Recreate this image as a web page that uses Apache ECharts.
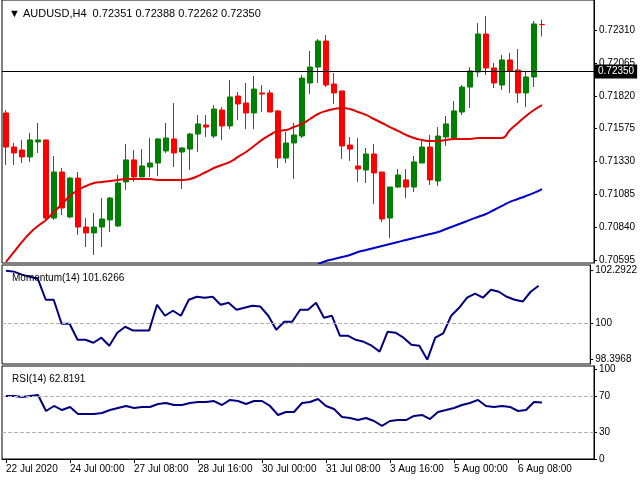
<!DOCTYPE html>
<html>
<head>
<meta charset="utf-8">
<script src="https://cdn.jsdelivr.net/npm/echarts@6/dist/echarts.min.js"></script>
<style>html,body{margin:0;padding:0;background:#fff}#chart{width:640px;height:480px}</style>
</head>
<body>
<div id="chart"></div>
<script>
// AUDUSD H4 candles: [open, close, low, high]
var candles = [
  [0.71692,0.71438,0.71304,0.71714],[0.71438,0.71394,0.71304,0.71468],[0.71416,0.71364,0.71319,0.71491],
  [0.71364,0.71491,0.71327,0.71543],[0.71476,0.71491,0.71394,0.71617],[0.71491,0.70909,0.70895,0.71491],
  [0.70909,0.71252,0.70895,0.71371],[0.71252,0.70984,0.70932,0.71282],[0.70917,0.71207,0.70909,0.71215],
  [0.71207,0.70842,0.70783,0.71252],[0.70842,0.70798,0.70693,0.70909],[0.70798,0.70842,0.70634,0.70947],
  [0.70842,0.70902,0.70693,0.71058],[0.70895,0.71058,0.70805,0.71066],[0.70850,0.71170,0.70842,0.71230],
  [0.71178,0.71342,0.71118,0.71461],[0.71342,0.71215,0.71178,0.71416],[0.71215,0.71297,0.71215,0.71423],
  [0.71289,0.71319,0.71215,0.71505],[0.71319,0.71498,0.71222,0.71505],[0.71409,0.71505,0.71394,0.71617],
  [0.71498,0.71394,0.71289,0.71766],[0.71401,0.71431,0.71125,0.71438],[0.71423,0.71535,0.71267,0.71543],
  [0.71535,0.71610,0.71401,0.71677],[0.71602,0.71587,0.71513,0.71677],[0.71520,0.71721,0.71505,0.71751],
  [0.71714,0.71595,0.71491,0.71736],[0.71595,0.71811,0.71572,0.71938],[0.71818,0.71759,0.71640,0.71848],
  [0.71766,0.71692,0.71572,0.71915],[0.71692,0.71870,0.71572,0.71967],[0.71841,0.71833,0.71699,0.71900],
  [0.71841,0.71699,0.71699,0.71863],[0.71707,0.71356,0.71282,0.71714],[0.71356,0.71468,0.71319,0.71550],
  [0.71468,0.71528,0.71200,0.71617],[0.71520,0.71952,0.71505,0.71975],[0.71915,0.72034,0.71833,0.72154],
  [0.72034,0.72228,0.71915,0.72243],[0.72228,0.71900,0.71885,0.72273],[0.71908,0.71841,0.71759,0.71990],
  [0.71856,0.71446,0.71349,0.71856],[0.71453,0.71423,0.71334,0.71513],[0.71297,0.71274,0.71178,0.71505],
  [0.71267,0.71386,0.71170,0.71431],[0.71386,0.71245,0.71014,0.71461],[0.71252,0.70902,0.70880,0.71252],
  [0.70909,0.71140,0.70760,0.71140],[0.71140,0.71230,0.71133,0.71274],[0.71193,0.71140,0.71058,0.71274],
  [0.71140,0.71327,0.71103,0.71371],[0.71319,0.71438,0.71319,0.71483],[0.71438,0.71193,0.71155,0.71528],
  [0.71185,0.71520,0.71148,0.71587],[0.71513,0.71610,0.71446,0.71669],[0.71505,0.71707,0.71505,0.71781],
  [0.71699,0.71885,0.71677,0.71900],[0.71885,0.72005,0.71729,0.72034],[0.71997,0.72280,0.71960,0.72362],
  [0.72280,0.72027,0.71975,0.72414],[0.72027,0.71915,0.71878,0.72064],[0.71900,0.72087,0.71863,0.72124],
  [0.72087,0.72005,0.71841,0.72139],[0.72012,0.71841,0.71766,0.72168],[0.71841,0.71960,0.71736,0.71997],
  [0.71960,0.72355,0.71885,0.72377],[0.72351,0.72350,0.72262,0.72388]
];
var maFast = [0.70582,0.70656,0.70731,0.70798,0.70850,0.70895,0.70954,0.71014,0.71073,0.71118,
  0.71148,0.71170,0.71178,0.71185,0.71193,0.71200,0.71200,0.71200,0.71200,0.71193,
  0.71193,0.71193,0.71193,0.71200,0.71222,0.71252,0.71282,0.71304,0.71327,0.71364,
  0.71401,0.71446,0.71491,0.71528,0.71558,0.71565,0.71587,0.71610,0.71647,0.71684,
  0.71707,0.71721,0.71729,0.71721,0.71699,0.71677,0.71647,0.71617,0.71587,0.71558,
  0.71528,0.71505,0.71491,0.71483,0.71483,0.71491,0.71498,0.71498,0.71498,0.71505,
  0.71505,0.71505,0.71505,0.71565,0.71617,0.71669,0.71714,0.71751];
var maSlow = [null,null,null,null,null,null,null,null,null,null,
  null,null,null,null,null,null,null,null,null,null,
  null,null,null,null,null,null,null,null,null,null,
  null,null,null,null,null,null,null,null,null,0.70566,
  0.70589,0.70604,0.70619,0.70634,0.70656,0.70671,0.70686,0.70701,0.70716,0.70731,
  0.70746,0.70760,0.70775,0.70790,0.70805,0.70827,0.70850,0.70872,0.70895,0.70917,
  0.70939,0.70969,0.70999,0.71029,0.71051,0.71073,0.71096,0.71125];
var momentum = [102.29,102.25,102.12,102.03,101.94,101.02,101.02,99.97,99.97,99.27,
  99.27,99.14,99.36,99.01,99.58,99.84,99.67,99.67,99.67,100.80,
  100.32,100.54,100.32,101.02,101.15,101.11,101.15,100.80,100.89,100.58,
  100.67,100.76,100.72,100.32,99.71,100.06,100.06,100.58,100.58,100.89,
  100.23,100.32,99.45,99.45,99.27,99.18,99.01,98.75,99.62,99.58,
  99.36,99.05,99.01,98.40,99.36,99.55,100.32,100.67,101.11,101.29,
  101.11,101.46,101.37,101.15,101.02,100.94,101.37,101.63];
var rsi = [70.0,70.0,68.9,70.0,71.1,53.3,58.9,54.4,57.8,50.0,
  50.0,50.0,51.1,54.4,56.7,58.9,56.7,57.8,57.8,61.1,
  62.2,60.0,60.0,62.2,63.3,63.3,64.4,60.0,65.6,64.4,
  61.1,64.4,64.4,58.9,48.9,52.2,52.2,62.2,63.3,66.7,
  58.9,55.6,46.7,45.6,43.3,45.6,42.2,36.7,42.2,43.3,
  43.3,47.8,48.9,44.4,52.2,54.4,56.7,60.0,62.2,65.6,
  58.9,57.8,58.9,57.8,53.3,54.4,63.3,62.82];
var timeLabels = ['22 Jul 2020','24 Jul 00:00','27 Jul 08:00','28 Jul 16:00','30 Jul 00:00',
  '31 Jul 08:00','3 Aug 16:00','5 Aug 00:00','6 Aug 08:00'];
var priceTicks = [0.70595,0.70840,0.71085,0.71330,0.71575,0.71820,0.72065,0.72310];
var momTicks = [98.3968,100,102.2922];
var rsiTicks = [0,30,70,100];
var lastPrice = 0.72350;

// 68 bars plus empty room on the right, labels every 8 bars
var slots = 74;
var categories = [];
for (var i = 0; i < slots; i++) {
  categories.push(i % 8 === 0 && timeLabels[i / 8] ? timeLabels[i / 8] : '');
}

var font = 'Liberation Sans';
var lbl = {fontFamily: font, fontSize: 10, color: '#000'};
function xAx(g, show) {
  return {
    type: 'category', gridIndex: g, data: categories, boundaryGap: true,
    axisLine: {show: show, lineStyle: {color: '#000'}},
    axisTick: {show: show, alignWithLabel: true, length: 4, lineStyle: {color: '#000'},
      interval: function (i, v) { return v !== ''; }},
    axisLabel: {show: show, align: 'left', margin: 5, fontFamily: font, fontSize: 10, color: '#000',
      interval: function (i, v) { return v !== ''; }},
    splitLine: {show: false}
  };
}
function yAx(g, min, max, ticks, fmt) {
  return {
    type: 'value', gridIndex: g, position: 'right', min: min, max: max,
    axisLine: {show: true, lineStyle: {color: '#000'}},
    axisTick: {show: true, length: 3, customValues: ticks, lineStyle: {color: '#000'}},
    axisLabel: Object.assign({customValues: ticks, margin: 5, formatter: fmt}, lbl),
    splitLine: {show: false}
  };
}
var dashed = {type: 'dashed', color: '#b0b0b0', width: 1};

var option = {
  animation: false,
  backgroundColor: '#fff',
  title: [{
    text: '\u25BC AUDUSD,H4  0.72351 0.72388 0.72262 0.72350',
    left: 4, top: 3, textStyle: {fontFamily: font, fontSize: 11, fontWeight: 'normal', color: '#000'}
  }, {
    text: 'Momentum(14) 101.6266',
    left: 7, top: 268, textStyle: {fontFamily: font, fontSize: 10, fontWeight: 'normal', color: '#000'}
  }, {
    text: 'RSI(14) 62.8191',
    left: 7, top: 369, textStyle: {fontFamily: font, fontSize: 10, fontWeight: 'normal', color: '#000'}
  }],
  grid: [
    {left: 2, right: 46, top: 0, height: 263, show: true, borderColor: '#000', borderWidth: 1},
    {left: 2, right: 46, top: 265, height: 99, show: true, borderColor: '#000', borderWidth: 1},
    {left: 2, right: 46, top: 366, height: 93, show: true, borderColor: '#000', borderWidth: 1}
  ],
  xAxis: [xAx(0, false), xAx(1, false), xAx(2, true)],
  yAxis: [
    yAx(0, 0.70574, 0.725335, priceTicks, function (v) { return v.toFixed(5); }),
    yAx(1, 98.21, 102.54, momTicks, function (v) { return v === 100 ? '100' : v.toFixed(4); }),
    yAx(2, 0, 103.3, rsiTicks, function (v) { return String(v); })
  ],
  series: [{
    name: 'AUDUSD', type: 'candlestick', xAxisIndex: 0, yAxisIndex: 0,
    data: candles, barWidth: 5,
    itemStyle: {color: '#008000', color0: '#ff0000', borderColor: '#008000', borderColor0: '#ff0000', borderWidth: 1}
  }, {
    name: 'MA fast', type: 'line', xAxisIndex: 0, yAxisIndex: 0, data: maFast,
    symbol: 'none', smooth: true, clip: true, lineStyle: {color: '#e00000', width: 2},
    markLine: {
      silent: true, symbol: 'none',
      lineStyle: {type: 'solid', color: '#000', width: 1},
      label: {position: 'end', distance: 1, backgroundColor: '#000', color: '#fff',
        fontFamily: font, fontSize: 10, padding: [2, 3], formatter: function () { return lastPrice.toFixed(5); }},
      data: [{yAxis: lastPrice}]
    }
  }, {
    name: 'MA slow', type: 'line', xAxisIndex: 0, yAxisIndex: 0, data: maSlow,
    symbol: 'none', smooth: true, clip: true, lineStyle: {color: '#0000c8', width: 2}
  }, {
    name: 'Momentum(14)', type: 'line', xAxisIndex: 1, yAxisIndex: 1, data: momentum,
    symbol: 'none', lineStyle: {color: '#000080', width: 2},
    markLine: {silent: true, symbol: 'none', label: {show: false}, lineStyle: dashed, data: [{yAxis: 100}]}
  }, {
    name: 'RSI(14)', type: 'line', xAxisIndex: 2, yAxisIndex: 2, data: rsi,
    symbol: 'none', lineStyle: {color: '#000080', width: 2},
    markLine: {silent: true, symbol: 'none', label: {show: false}, lineStyle: dashed, data: [{yAxis: 30}, {yAxis: 70}]}
  }]
};
var chart = echarts.init(document.getElementById('chart'));
chart.setOption(option);
</script>
</body>
</html>
